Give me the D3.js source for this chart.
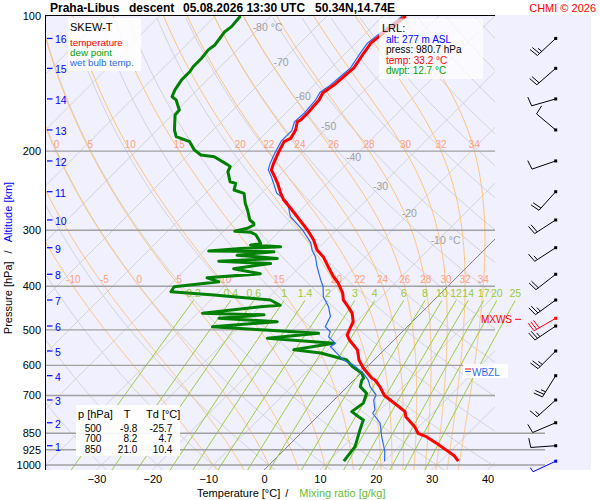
<!DOCTYPE html>
<html><head><meta charset="utf-8">
<script src="https://cdn.jsdelivr.net/npm/d3@7"></script>
<style>body{margin:0;background:#fff;} svg{display:block;font-family:"Liberation Sans",Arial,sans-serif;}</style>
</head><body><svg id="c" width="600" height="500"></svg>
<script>
// ---------------- DATA ----------------
const pressureTicks = [100,200,300,400,500,600,700,850,925,1000];
const tempTicks = [-30,-20,-10,0,10,20,30,40];
const altitudeKm = [1,2,3,4,5,6,7,8,9,10,11,12,13,14,15,16];
const altitudeP = [905.9,805.2,716.5,632.5,557.3,490.3,429.1,376.0,328.1,284.6,246.2,210.3,179.4,153.0,130.8,112.2];

const tempP = [980.7,955,930,894.6,865,850,821.6,780.3,760.7,735,700,669,646.7,641,608,583.6,554,526.7,513.5,500,479.6,459,444,429,414,393.3,380.7,361.8,343.6,332,315.4,299.6,280,268,257,248,235.8,228,220.3,212.9,202.2,190.5,187.3,179.5,172,170.4,164.4,153.8,148.4,142.5,135.3,130.5,120.9,114.8,110.7,100];
const tempT = [33.2,31.6,29.4,26.1,23.1,21.0,19.2,15.8,14.8,12.1,8.2,5.8,3.75,2.9,-0.5,-2.7,-4.8,-8.0,-9.3,-9.8,-10.6,-12.3,-14.2,-16.25,-17.6,-20.2,-22.2,-24.9,-27.6,-29.9,-32.3,-35.2,-39.4,-42.1,-44.8,-46.6,-48.9,-50.6,-52.4,-53.2,-54.2,-55.2,-54.6,-55.2,-56.4,-56.1,-56.1,-56.4,-57.0,-56.4,-56.1,-55.9,-56.8,-57.3,-57.0,-55.9];

const dewP = [980.7,910,836,793.6,780,760.7,728,692,669,646.7,641,625,603,583.6,563,554,535.8,522,509,500,492,479.6,471,463,459,444,441,429,418.3,411.2,400.8,390.8,383,375.1,365.4,355.9,351.7,346.8,340.9,335.1,333.9,329.4,326.7,323.8,320.9,315.4,307,303,301.5,297,292,289.5,284.7,270.5,261.4,248.4,244.1,235.9,233.9,222.1,216.4,214.6,205.8,204,198.7,190.5,185.7,179.5,166.1,162,153.8,151.3,146.1,138.8,133.1,129.7,124.2,119,116,112.1,108.4,105.6,100];
const dewT = [12.7,12.1,10.0,8.8,7.3,5.25,5.8,4.6,2.3,1.4,1.4,0.2,-2.8,-4.9,-10.8,-16.2,-10.25,-23.0,-14.7,-25.7,-34.9,-24.2,-35.25,-27.8,-39.1,-29.9,-26.6,-29.3,-40.3,-48.6,-48.9,-41.8,-44.6,-35.8,-41.5,-35.8,-45.5,-35.5,-43.3,-37.3,-49.1,-43.9,-37.0,-42.7,-41.2,-42.1,-43.6,-45.0,-48.0,-46.25,-45.7,-46.0,-47.3,-49.5,-51.1,-53.1,-55.5,-56.4,-57.7,-59.9,-60.4,-61.1,-65.0,-67.7,-69.8,-72.1,-75.4,-76.9,-79.5,-79.6,-82.0,-83.3,-84.0,-84.6,-84.6,-84.9,-84.9,-85.2,-84.9,-85.2,-85.5,-85.2,-85.5];

const wbP = [980.7,933,865,807,767,754,716.6,698,669,647,625,598.7,583.6,545,535.8,518,504.9,492,467,444,422,400.8,387,361.8,343.6,332,320,299.6,280,259,248,236,228,220,213,202,190,180,172,164,154,148,142.5,135,130.5,121,115,111,100];
const wbT = [20.0,18.3,15.1,12.4,9.3,9.1,7.1,6.6,4.05,2.55,0.46,-2.8,-5.5,-10.2,-9.9,-12.3,-12.9,-14.7,-15.6,-17.7,-20.4,-22.25,-23.9,-26.9,-29.0,-30.8,-32.3,-36.1,-40.6,-43.9,-47.3,-49.6,-51.2,-53.0,-53.8,-54.8,-55.8,-55.8,-56.9,-56.7,-57.0,-57.6,-57.0,-56.7,-56.5,-57.4,-57.9,-57.6,-56.5];

const windP = [980.7,905.9,805.2,716.5,632.5,557.3,490.3,429.1,376.0,328.1,284.6,246.2,210.3,179.4,153.0,130.8,112.2];
const windDir = [245,266,247,228,212,225,236,234,232,237,237,222,251,310,254,229,227];
const windSpd = [5,10,10,15,25,25,25,25,20,15,20,20,10,10,10,20,25];
const mxwsP = 471.3, mxwsDir = 240, mxwsSpd = 30;

const moistThetaW = [-10,-5,0,5,10,15,20,22,24,26,28,30,32,34];
const moistLabelP = [200,400];
const mixingRatios = [0.2,0.4,0.6,1,1.4,2,3,4,6,8,10,12,14,17,20,25];
const isothermLabelT = [-80,-70,-60,-50,-40,-30,-20,-10];
const isothermLabelP = [105.8,126.6,150.5,175.9,206.1,239.1,274.6,315.4];

const tableLevels = ["500","700","850"];
const tableT = ["-9.8","8.2","21.0"];
const tableTd = ["-25.7","4.7","10.4"];
const lrlLines = ["alt: 277 m ASL","press: 980.7 hPa","temp: 33.2 °C","dwpt: 12.7 °C"];
const legendItems = ["temperature","dew point","wet bulb temp."];

// ---------------- GEOMETRY ----------------
const L=45, TOP=15, R=495, B=470, PR=591;
const svg = d3.select('#c');
const yScale = d3.scaleLog().domain([100,1000]).range([16,465]);
const xBase = d3.scaleLinear().domain([-30,40]).range([96.5,487.5]);
const pTop = yScale.invert(TOP), pBottom = yScale.invert(B);
const sx = (T,p) => xBase(T) + (B - yScale(p));

svg.append('rect').attr('width',600).attr('height',500).attr('fill','#fff');
svg.append('rect').attr('x',L).attr('y',TOP).attr('width',PR-L).attr('height',B-TOP).attr('fill','#f0f0ff');

const defs = svg.append('defs');
defs.append('clipPath').attr('id','plot').append('rect').attr('x',L).attr('y',TOP).attr('width',R-L).attr('height',B-TOP);
defs.append('clipPath').attr('id','plotw').append('rect').attr('x',L).attr('y',TOP).attr('width',545-L).attr('height',B-TOP);

const grid = svg.append('g').attr('clip-path','url(#plot)');
const line = d3.line().x(d=>sx(d[1],d[0])).y(d=>yScale(d[0]));

// dry adiabats
for (let th=-40; th<=220; th+=10) {
  const pts=[];
  for (let p=pBottom; p>=pTop-1; p-=5) pts.push([p,(th+273.15)*Math.pow(p/1000,0.2857)-273.15]);
  grid.append('path').attr('d',line(pts)).attr('fill','none').attr('stroke','#d4d4d4').attr('stroke-width',1);
}
// isotherms
for (let t=-170; t<=50; t+=10) {
  if (t===0) continue;
  grid.append('line').attr('x1',sx(t,pBottom)).attr('y1',B).attr('x2',sx(t,pTop)).attr('y2',TOP)
    .attr('stroke','#d4d4d4').attr('stroke-width',1);
}
// moist adiabats
const Rd=287.04, Cp=1005.7, Lv=2.501e6, EPS=0.622;
const es = Tc => 6.112*Math.exp(17.67*Tc/(Tc+243.5));
function dTdp(p,TK){const e=es(TK-273.15); const rs=EPS*e/(p-e); return (Rd*TK+Lv*rs)/(p*(Cp+Lv*Lv*rs*EPS/(Rd*TK*TK)));}
function integ(thw, dp, stop) {
  let T=thw+273.15, p=1000; const out=[];
  while (dp<0 ? p>stop : p<stop) {
    const k1=dTdp(p,T), k2=dTdp(p+dp/2,T+k1*dp/2), k3=dTdp(p+dp/2,T+k2*dp/2), k4=dTdp(p+dp,T+k3*dp);
    T+=dp*(k1+2*k2+2*k3+k4)/6; p+=dp; out.push([p,T-273.15]);
  }
  return out;
}
const moistCurves = moistThetaW.map(thw => integ(thw,2,pBottom+2).reverse().concat([[1000,thw]]).concat(integ(thw,-2,pTop-2)));
moistCurves.forEach(c => grid.append('path').attr('d',line(c)).attr('fill','none').attr('stroke','#ffc474').attr('stroke-width',1));
function moistTAt(c,p){ for(let i=1;i<c.length;i++){ if ((c[i-1][0]-p)*(c[i][0]-p)<=0){ const f=(p-c[i-1][0])/(c[i][0]-c[i-1][0]); return c[i-1][1]+f*(c[i][1]-c[i-1][1]); } } return null; }

// mixing ratio lines
const mixG = svg.append('g').attr('clip-path','url(#plotw)');
const mixTop = 430;
const tMix = (w,p) => { const e=(w/1000)*p/(EPS+w/1000); const l=Math.log(e/6.112); return 243.5*l/(17.67-l); };
mixingRatios.forEach(w => {
  const pts=[]; for (let p=pBottom; p>=mixTop; p-=10) pts.push([p,tMix(w,p)]); pts.push([mixTop,tMix(w,mixTop)]);
  mixG.append('path').attr('d',line(pts)).attr('fill','none').attr('stroke','#9acd32').attr('stroke-width',1);
});

// isobars
pressureTicks.filter(p=>p>100).forEach(p => {
  svg.append('line').attr('x1',L).attr('x2',p>=850?545:R).attr('y1',yScale(p)).attr('y2',yScale(p))
    .attr('stroke','#a0a0a0').attr('stroke-width',1.4);
});
// 0 C isotherm
grid.append('line').attr('x1',sx(0,pBottom)).attr('y1',B).attr('x2',sx(0,pTop)).attr('y2',TOP)
  .attr('stroke','#707070').attr('stroke-width',0.9);

// labels: moist adiabats
const mlab = svg.append('g').attr('font-size','10px').attr('fill','#ffa07a').attr('text-anchor','middle');
moistLabelP.forEach(p => {
  moistCurves.forEach((c,i) => {
    let x = sx(moistTAt(c,p),p);
    if (x>492) return;
    if (x<48) { if (p<300) return; x = 68; }
    mlab.append('text').attr('x',x).attr('y',yScale(p)-6.5).attr('dominant-baseline','central').text(moistThetaW[i]);
  });
});
// labels: mixing ratio
const xlab = svg.append('g').attr('font-size','10.5px').attr('fill','#99cc33').attr('text-anchor','middle');
mixingRatios.forEach(w => {
  xlab.append('text').attr('x',sx(tMix(w,mixTop),mixTop)).attr('y',293).attr('dominant-baseline','central').text(w);
});
// labels: isotherms
const ilab = svg.append('g').attr('font-size','10.5px').attr('fill','#a0a0a0');
isothermLabelT.forEach((t,i) => {
  const p=isothermLabelP[i], x=sx(t,p), y=yScale(p);
  const tx = ilab.append('text').attr('x',x).attr('y',y).attr('text-anchor','middle').attr('dominant-baseline','central').text(t);
  if (i===0 || i===isothermLabelT.length-1) {
    const w = tx.node().getComputedTextLength();
    ilab.append('text').attr('x',x+w/2+3).attr('y',y).attr('dominant-baseline','central').text('°C');
  }
});

// profiles
const prof = (P,T) => P.map((p,i)=>[p,T[i]]);
svg.append('path').attr('d',line(prof(dewP,dewT))).attr('fill','none').attr('stroke','#008000').attr('stroke-width',3).attr('stroke-linejoin','round');
svg.append('path').attr('d',line(prof(wbP,wbT))).attr('fill','none').attr('stroke','#2a6cf0').attr('stroke-width',1.2);
svg.append('path').attr('d',line(prof(tempP,tempT))).attr('fill','none').attr('stroke','#ff0000').attr('stroke-width',3).attr('stroke-linejoin','round');

// borders
svg.append('line').attr('x1',L).attr('x2',R).attr('y1',TOP+0.5).attr('y2',TOP+0.5).attr('stroke','#000');
svg.append('line').attr('x1',L+0.5).attr('x2',L+0.5).attr('y1',TOP).attr('y2',B).attr('stroke','#000');

// axes
const ax = svg.append('g').attr('transform',`translate(0,${B})`)
  .call(d3.axisBottom(xBase).tickValues(tempTicks).tickSize(0).tickPadding(5));
ax.select('.domain').remove();
ax.selectAll('text').attr('font-size','11px').attr('font-family','"Liberation Sans",Arial,sans-serif').attr('fill','#000');
const ay = svg.append('g').attr('transform',`translate(${L},0)`)
  .call(d3.axisLeft(yScale).tickValues(pressureTicks).tickFormat(d3.format('d')).tickSize(0).tickPadding(4));
ay.select('.domain').remove();
ay.selectAll('text').attr('font-size','11px').attr('font-family','"Liberation Sans",Arial,sans-serif').attr('fill','#000');

// altitude ticks
altitudeKm.forEach((k,i) => {
  const y=yScale(altitudeP[i]);
  svg.append('line').attr('x1',47).attr('x2',52.5).attr('y1',y).attr('y2',y).attr('stroke','#0000ff').attr('stroke-width',1.2);
  svg.append('text').attr('x',55).attr('y',y+1).attr('dominant-baseline','central').attr('font-size','10.5px').attr('fill','#0000ff').text(k);
});

// axis titles
const yt = svg.append('text').attr('transform','translate(8,258) rotate(-90)').attr('text-anchor','middle').attr('dominant-baseline','central').attr('font-size','11px');
yt.append('tspan').attr('fill','#000').text('Pressure [hPa]');
yt.append('tspan').attr('fill','#000').attr('dx',8).text('/');
yt.append('tspan').attr('fill','#0000ff').attr('dx',8).text('Altitude [km]');
const xt = svg.append('text').attr('x',197).attr('y',493).attr('dominant-baseline','central').attr('font-size','11px');
xt.append('tspan').attr('fill','#000').text('Temperature [°C]');
xt.append('tspan').attr('fill','#000').attr('dx',5).text('/');
xt.append('tspan').attr('fill','#66bb33').attr('dx',11).text('Mixing ratio [g/kg]');

// title
const tt = svg.append('g').attr('font-size','12px').attr('font-weight','bold');
[['Praha-Libus',50],['descent',129],['05.08.2026 13:30 UTC',183],['50.34N,14.74E',315]].forEach(d =>
  tt.append('text').attr('x',d[1]).attr('y',7.5).attr('dominant-baseline','central').text(d[0]));
svg.append('text').attr('x',596).attr('y',7.5).attr('text-anchor','end').attr('dominant-baseline','central').attr('font-size','11px').attr('fill','#ff0000').text('CHMI © 2026');

// legend box
svg.append('rect').attr('x',68).attr('y',18).attr('width',73).attr('height',53).attr('fill','#fff').attr('opacity',0.85);
svg.append('text').attr('x',70).attr('y',27).attr('dominant-baseline','central').attr('font-size','11px').text('SKEW-T');
const legendColors = ['#ff0000','#00a000','#2a6cf0'];
legendItems.forEach((t,i) =>
  svg.append('text').attr('x',70).attr('y',42+i*10).attr('dominant-baseline','central').attr('font-size','9.8px').attr('fill',legendColors[i]).text(t));

// LRL box
svg.append('rect').attr('x',379).attr('y',18.5).attr('width',104).attr('height',60.5).attr('fill','#fff').attr('opacity',0.7);
svg.append('text').attr('x',382).attr('y',27.5).attr('dominant-baseline','central').attr('font-size','11px').text('LRL:');
const lrlColors = ['#0000ff','#000','#ff0000','#00a000'];
lrlLines.forEach((t,i) => svg.append('text').attr('x',386).attr('y',39.5+i*10.4).attr('dominant-baseline','central')
  .attr('font-size','10px').attr('fill',lrlColors[i]).text(t));

// table
svg.append('rect').attr('x',76).attr('y',405).attr('width',104).attr('height',51).attr('fill','#fff').attr('opacity',0.9);
const th = svg.append('g').attr('font-size','11px');
th.append('text').attr('x',78).attr('y',413.5).attr('dominant-baseline','central').text('p [hPa]');
th.append('text').attr('x',127).attr('y',413.5).attr('text-anchor','middle').attr('dominant-baseline','central').text('T');
th.append('text').attr('x',146).attr('y',413.5).attr('dominant-baseline','central').text('Td [°C]');
tableLevels.forEach((lv,i) => {
  const y=428.5+i*10.3;
  svg.append('text').attr('x',93).attr('y',y).attr('text-anchor','middle').attr('dominant-baseline','central').attr('font-size','10px').text(lv);
  svg.append('text').attr('x',137.3).attr('y',y).attr('text-anchor','end').attr('dominant-baseline','central').attr('font-size','10px').text(tableT[i]);
  svg.append('text').attr('x',172.3).attr('y',y).attr('text-anchor','end').attr('dominant-baseline','central').attr('font-size','10px').text(tableTd[i]);
});

// WBZL
const wy = 372.5;
svg.append('rect').attr('x',463).attr('y',364).attr('width',45).attr('height',14).attr('fill','#fff').attr('opacity',0.9);
svg.append('line').attr('x1',465).attr('x2',471).attr('y1',wy-3.5).attr('y2',wy-3.5).attr('stroke','#ff0000');
svg.append('line').attr('x1',465).attr('x2',471).attr('y1',wy-1).attr('y2',wy-1).attr('stroke','#2a6cf0');
svg.append('text').attr('x',472).attr('y',wy).attr('dominant-baseline','central').attr('font-size','10px').attr('fill','#2a6cf0').text('WBZL');

// MXWS
const my = yScale(mxwsP)+1;
svg.append('text').attr('x',512).attr('y',my).attr('text-anchor','end').attr('dominant-baseline','central').attr('font-size','10px').attr('fill','#ff0000').text('MXWS');
svg.append('line').attr('x1',515).attr('x2',521).attr('y1',my).attr('y2',my).attr('stroke','#ff0000');

// wind barbs
const BX = 555.7;
function barb(p, dir, spd, color) {
  const y0=yScale(p), a=dir*Math.PI/180, ux=Math.sin(a), uy=-Math.cos(a), Ls=25;
  const g=svg.append('g').attr('stroke',color).attr('stroke-width',1).attr('fill','none');
  const ex=BX+ux*Ls, ey=y0+uy*Ls;
  g.append('line').attr('x1',BX).attr('y1',y0).attr('x2',ex).attr('y2',ey);
  const r=82*Math.PI/180, vx=ux*Math.cos(r)-uy*Math.sin(r), vy=ux*Math.sin(r)+uy*Math.cos(r);
  let s=spd, pos=0;
  const nFull=Math.floor(s/10); s-=nFull*10;
  for (let i=0;i<nFull;i++){ const bx=ex-ux*pos, by=ey-uy*pos; g.append('line').attr('x1',bx).attr('y1',by).attr('x2',bx+vx*9.5).attr('y2',by+vy*9.5); pos+=3; }
  if (s>=5){ if(nFull===0) pos=0; const bx=ex-ux*pos, by=ey-uy*pos; g.append('line').attr('x1',bx).attr('y1',by).attr('x2',bx+vx*5).attr('y2',by+vy*5); }
  svg.append('rect').attr('x',BX-1.5).attr('y',y0-1.5).attr('width',3).attr('height',3).attr('fill',color);
}
windP.forEach((p,i) => barb(p, windDir[i], windSpd[i], i===0 ? '#0000ff' : '#000'));
barb(mxwsP, mxwsDir, mxwsSpd, '#ff0000');
</script></body></html>
